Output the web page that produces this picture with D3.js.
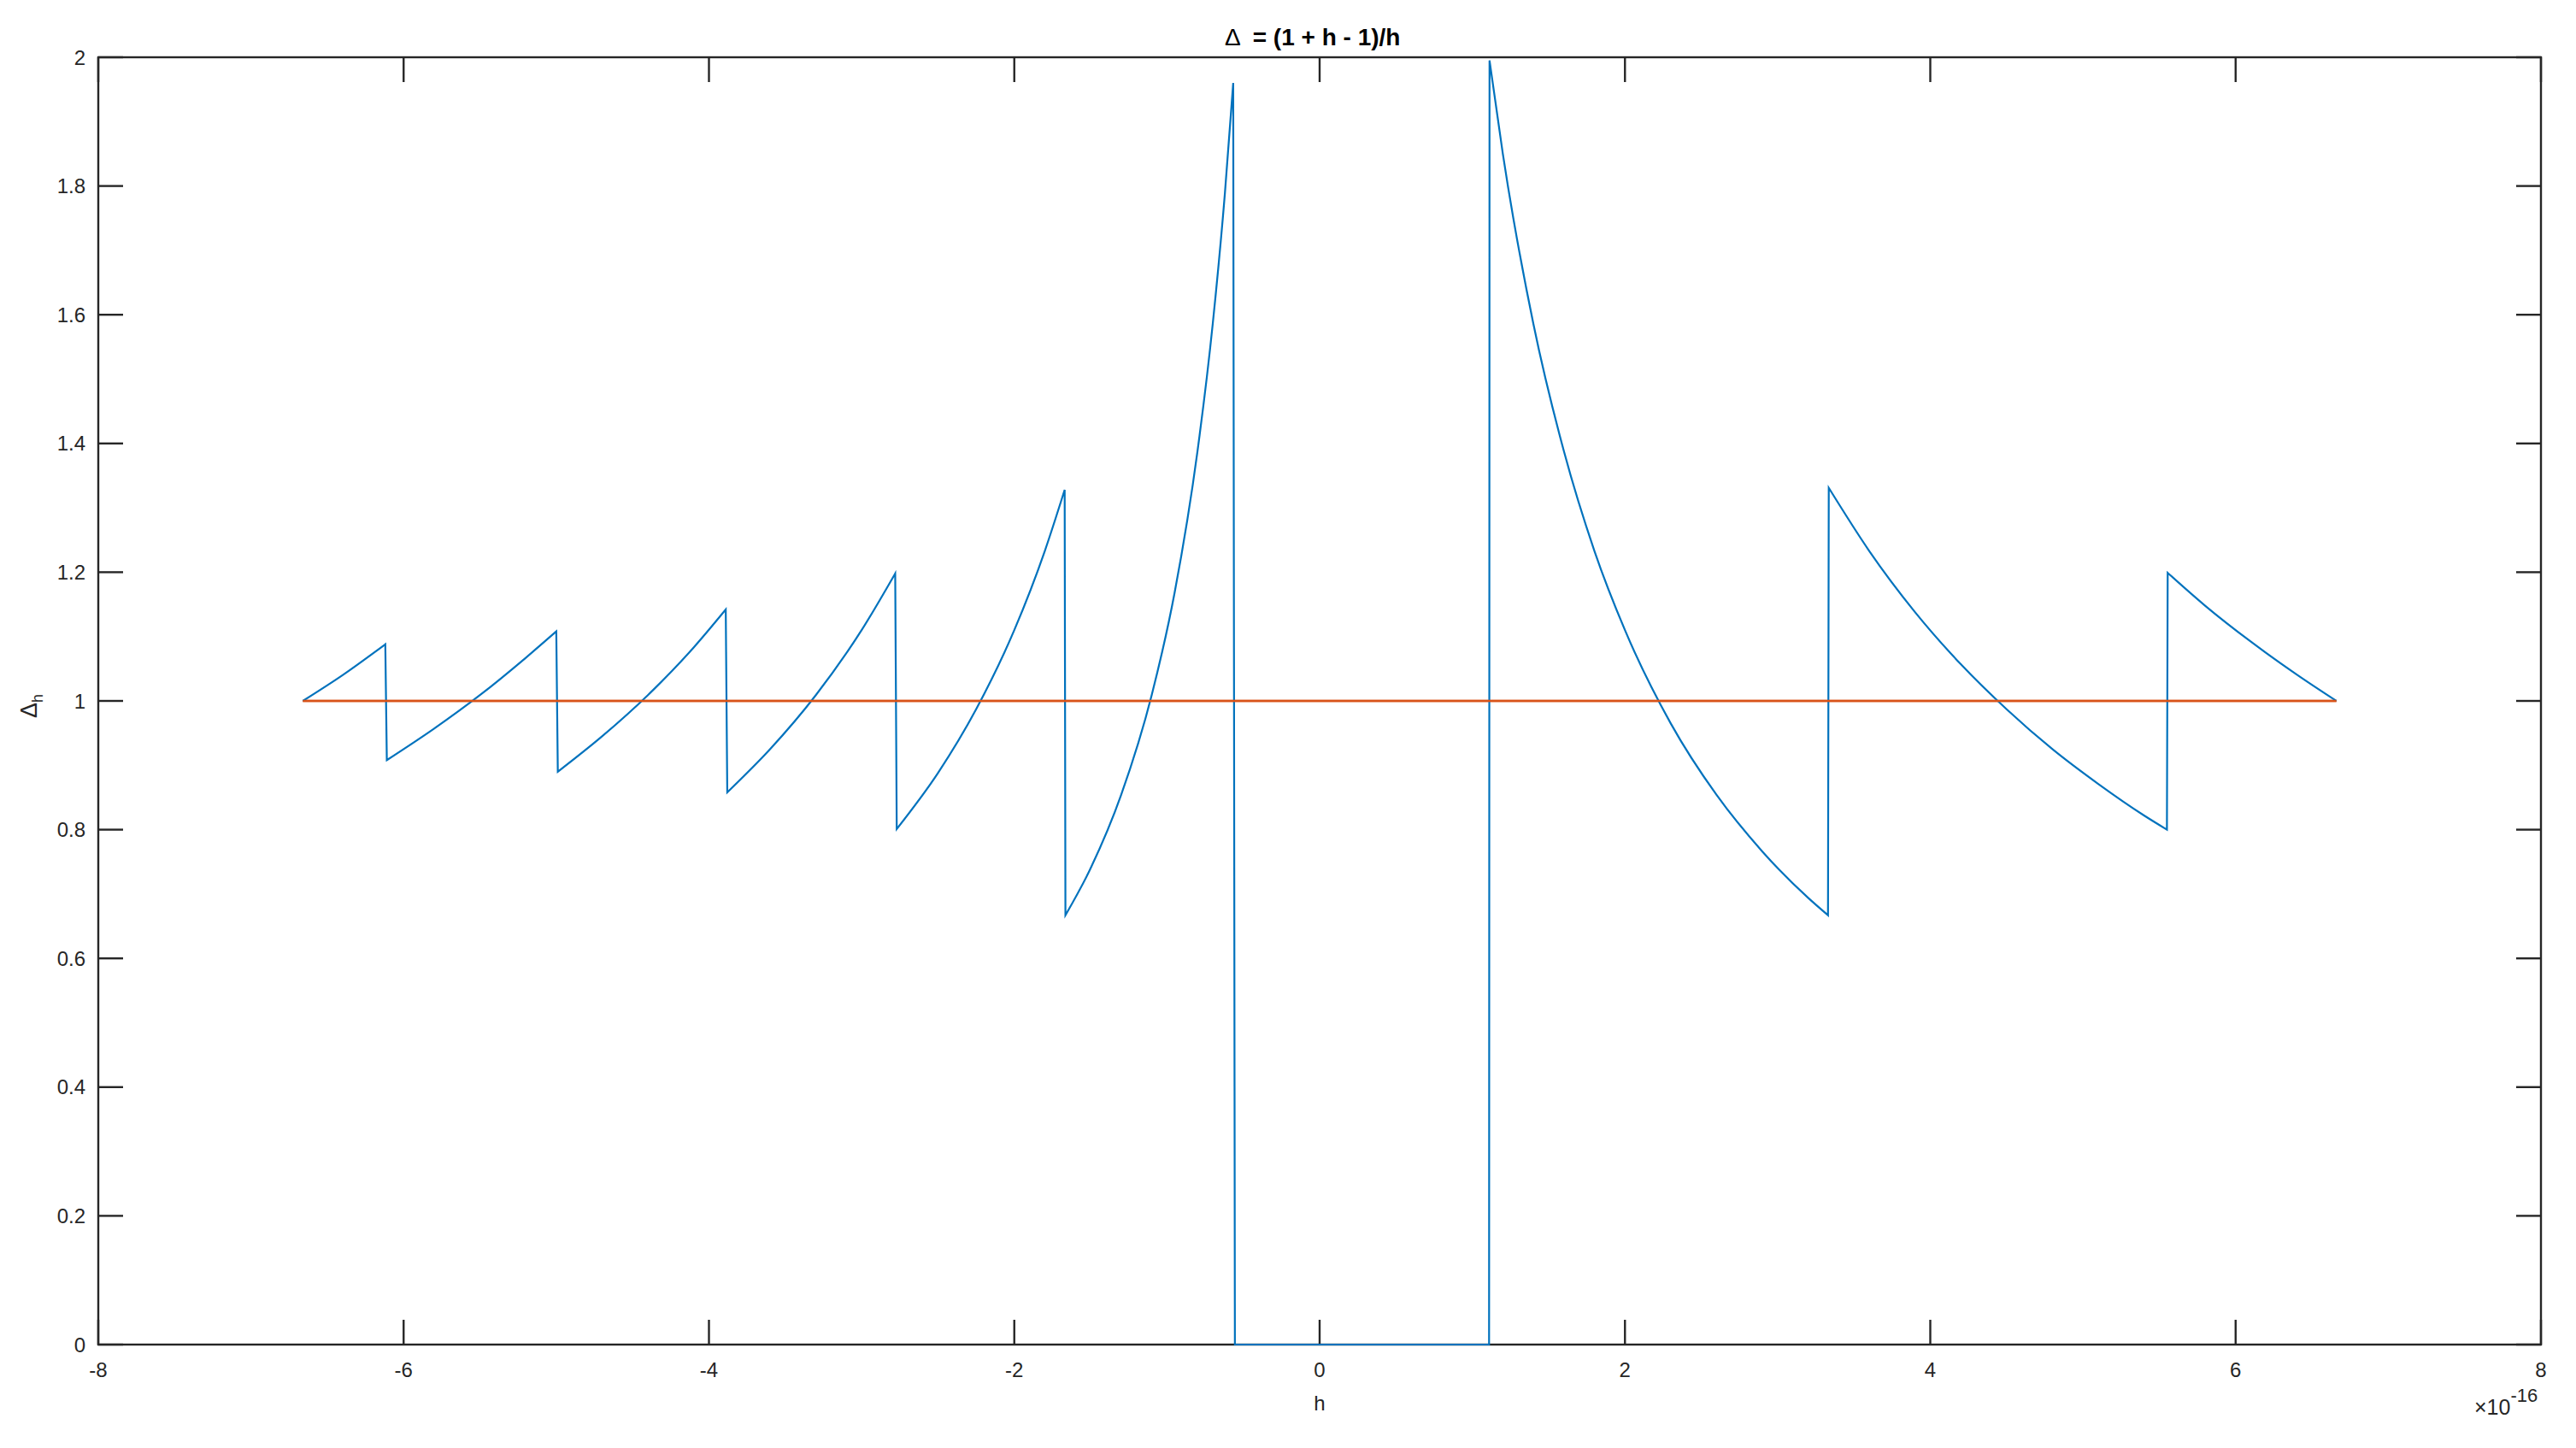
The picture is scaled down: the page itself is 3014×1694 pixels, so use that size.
<!DOCTYPE html>
<html><head><meta charset="utf-8">
<script src="https://cdn.jsdelivr.net/npm/d3@7"></script>
<style>body{margin:0;background:#fff}svg{display:block}text{font-family:"Liberation Sans",Arial,Helvetica,sans-serif;fill:#262626}</style>
</head><body>
<script>
// x values are in units of 1e-16
const xTicks = [-8,-6,-4,-2,0,2,4,6,8];
const yTicks = [0,0.2,0.4,0.6,0.8,1,1.2,1.4,1.6,1.8,2];
const yTickLabels = ["0","0.2","0.4","0.6","0.8","1","1.2","1.4","1.6","1.8","2"];
// Delta_h curve, read as pieces between the jumps
const seg1 = [[-6.66,1.0],[-6.4,1.04],[-6.12,1.088]];
const seg2 = [[-6.11,0.908],[-5.8,0.957],[-5.5,1.009],[-5.2,1.067],[-5.0,1.108]];
const seg3 = [[-4.99,0.89],[-4.7,0.945],[-4.4,1.009],[-4.1,1.083],[-3.89,1.142]];
const seg4 = [[-3.88,0.858],[-3.6,0.925],[-3.3,1.009],[-3.0,1.11],[-2.78,1.198]];
const seg5 = [[-2.77,0.801],[-2.5,0.888],[-2.25,0.987],[-2.0,1.11],[-1.8,1.233],[-1.67,1.328]];
const seg6 = [[-1.665,0.667],[-1.5,0.74],[-1.3,0.854],[-1.1,1.009],[-0.95,1.168],[-0.8,1.388],[-0.7,1.586],[-0.62,1.79],[-0.566,1.96]];
const seg7 = [[-0.555,0],[1.11,0]];
const seg8 = [[1.113,1.995],[1.2,1.85],[1.4,1.586],[1.6,1.388],[1.8,1.233],[2.0,1.11],[2.3,0.965],[2.6,0.854],[2.9,0.766],[3.2,0.694],[3.33,0.667]];
const seg9 = [[3.335,1.331],[3.6,1.233],[3.9,1.138],[4.2,1.057],[4.5,0.987],[4.8,0.925],[5.1,0.871],[5.4,0.822],[5.55,0.8]];
const seg10 = [[5.555,1.199],[5.8,1.148],[6.1,1.092],[6.4,1.041],[6.66,1.0]];
const curveSegments = [seg1,seg2,seg3,seg4,seg5,seg6,seg7,seg8,seg9,seg10];
const refLine = [[-6.66,1],[6.66,1]];

const W=3014,H=1694;
const L=115,R=2973,T=67,B=1573;
const svg=d3.select("body").append("svg").attr("width",W).attr("height",H);
svg.append("rect").attr("width",W).attr("height",H).attr("fill","#fff");
const x=d3.scaleLinear().domain([-8,8]).range([L,R]);
const y=d3.scaleLinear().domain([0,2]).range([B,T]);
const tickLen=29;
const fs=24;

// axes (drawn first so the data lies on top, as in the reference)
const ax=svg.append("g").attr("stroke","#262626").attr("stroke-width",2.4).attr("fill","none");
ax.append("rect").attr("x",L).attr("y",T).attr("width",R-L).attr("height",B-T);
xTicks.forEach(t=>{
  ax.append("line").attr("x1",x(t)).attr("x2",x(t)).attr("y1",B).attr("y2",B-tickLen);
  ax.append("line").attr("x1",x(t)).attr("x2",x(t)).attr("y1",T).attr("y2",T+tickLen);
});
yTicks.forEach(t=>{
  ax.append("line").attr("x1",L).attr("x2",L+tickLen).attr("y1",y(t)).attr("y2",y(t));
  ax.append("line").attr("x1",R).attr("x2",R-tickLen).attr("y1",y(t)).attr("y2",y(t));
});

// data lines
const lineM=d3.line().x(d=>x(d[0])).y(d=>y(d[1])).curve(d3.curveMonotoneX);
let pathStr="";
curveSegments.forEach((s,i)=>{let p=lineM(s); if(i>0)p=p.replace(/^M/,"L"); pathStr+=p;});
svg.append("path").attr("d",d3.line().x(d=>x(d[0])).y(d=>y(d[1]))(refLine)).attr("fill","none").attr("stroke","#D95319").attr("stroke-width",2.4);
svg.append("path").attr("d",pathStr).attr("fill","none").attr("stroke","#0072BD").attr("stroke-width",2.2).attr("stroke-linejoin","miter");
// orange line is drawn after the blue in the reference (it lies on top)
svg.append("path").attr("d",d3.line().x(d=>x(d[0])).y(d=>y(d[1]))(refLine)).attr("fill","none").attr("stroke","#D95319").attr("stroke-width",2.4);

// tick labels
svg.append("g").selectAll("text").data(xTicks).join("text")
  .attr("x",d=>x(d)).attr("y",1611).attr("text-anchor","middle").attr("font-size",fs).text(d=>d===0?"0":(d<0?"-"+Math.abs(d):d));
svg.append("g").selectAll("text").data(yTicks).join("text")
  .attr("x",L-15).attr("y",d=>y(d)+8.5).attr("text-anchor","end").attr("font-size",fs).text((d,i)=>yTickLabels[i]);

// exponent label
const ex=svg.append("text").attr("x",2895).attr("y",1655).attr("font-size",25);
ex.append("tspan").text("×10");
ex.append("tspan").attr("dy",-15).attr("font-size",22).text("-16");

// x label
svg.append("text").attr("x",x(0)).attr("y",1650).attr("text-anchor","middle").attr("font-size",fs).text("h");
// y label
const yl=svg.append("text").attr("transform","translate(43,"+(y(1)+6)+") rotate(-90)").attr("text-anchor","middle").attr("font-size",27);
yl.append("tspan").text("Δ");
yl.append("tspan").attr("font-size",18).attr("dy",7).text("h");
// title
const tt=svg.append("text").attr("x",1433).attr("y",53).attr("font-size",28).attr("font-weight","bold").style("fill","#000");
tt.append("tspan").attr("font-weight","normal").text("Δ");
tt.append("tspan").text("\u2002= (1 + h - 1)/h");
</script>
</body></html>
